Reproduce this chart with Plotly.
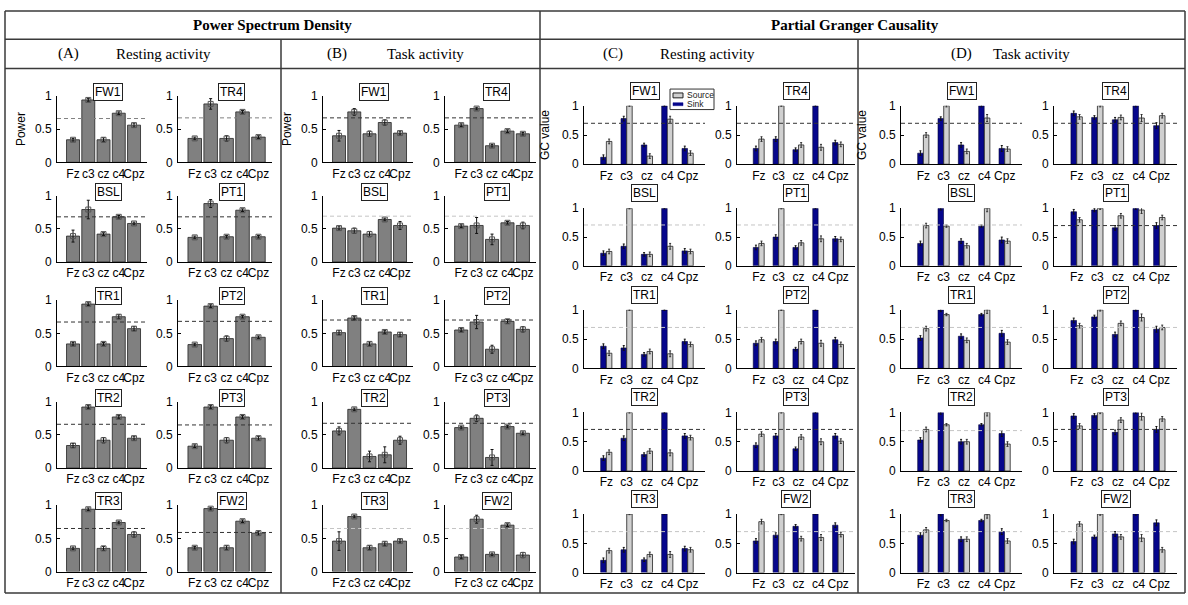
import plotly.graph_objects as go

W, H = 1188, 605

electrodes = ["Fz", "c3", "cz", "c4", "Cpz"]
positions = [1, 2, 3, 4, 5]
conditions = ["FW1", "TR4", "BSL", "PT1", "TR1", "PT2", "TR2", "PT3", "TR3", "FW2"]

# ---------------- (A) PSD resting ----------------
A_FW1 = [0.34, 0.94, 0.34, 0.74, 0.56]
A_TR4 = [0.36, 0.88, 0.36, 0.76, 0.38]
A_BSL = [0.39, 0.79, 0.42, 0.68, 0.58]
A_PT1 = [0.37, 0.88, 0.38, 0.78, 0.38]
A_TR1 = [0.34, 0.94, 0.34, 0.75, 0.57]
A_PT2 = [0.33, 0.91, 0.42, 0.75, 0.44]
A_TR2 = [0.34, 0.92, 0.42, 0.77, 0.45]
A_PT3 = [0.33, 0.92, 0.42, 0.77, 0.45]
A_TR3 = [0.35, 0.94, 0.35, 0.74, 0.56]
A_FW2 = [0.36, 0.95, 0.36, 0.76, 0.58]
A_FW1_err = [0.02, 0.02, 0.03, 0.02, 0.03]
A_TR4_err = [0.02, 0.08, 0.04, 0.02, 0.02]
A_BSL_err = [0.09, 0.14, 0.02, 0.02, 0.02]
A_PT1_err = [0.02, 0.06, 0.02, 0.02, 0.02]
A_TR1_err = [0.02, 0.02, 0.02, 0.03, 0.03]
A_PT2_err = [0.02, 0.02, 0.04, 0.02, 0.02]
A_TR2_err = [0.03, 0.02, 0.04, 0.02, 0.03]
A_PT3_err = [0.02, 0.02, 0.04, 0.02, 0.03]
A_TR3_err = [0.02, 0.02, 0.03, 0.02, 0.04]
A_FW2_err = [0.02, 0.02, 0.03, 0.02, 0.03]
A_thr = [0.66, 0.67, 0.68, 0.68, 0.67, 0.68, 0.66, 0.65, 0.65, 0.59]
A_thr_style = ["mid", "mid", "dark", "dark", "dark", "dark", "dark", "dark", "dark", "dark"]

# ---------------- (B) PSD task ----------------
B_FW1 = [0.40, 0.76, 0.43, 0.60, 0.44]
B_TR4 = [0.56, 0.81, 0.25, 0.47, 0.43]
B_BSL = [0.51, 0.47, 0.42, 0.64, 0.55]
B_PT1 = [0.54, 0.55, 0.34, 0.59, 0.55]
B_TR1 = [0.51, 0.73, 0.34, 0.52, 0.48]
B_PT2 = [0.55, 0.67, 0.26, 0.68, 0.56]
B_TR2 = [0.56, 0.885, 0.175, 0.20, 0.42]
B_PT3 = [0.61, 0.75, 0.16, 0.625, 0.525]
B_TR3 = [0.46, 0.83, 0.36, 0.42, 0.46]
B_FW2 = [0.22, 0.79, 0.26, 0.70, 0.25]
B_FW1_err = [0.08, 0.05, 0.04, 0.04, 0.03]
B_TR4_err = [0.02, 0.02, 0.02, 0.02, 0.02]
B_BSL_err = [0.03, 0.04, 0.04, 0.02, 0.06]
B_PT1_err = [0.02, 0.12, 0.08, 0.02, 0.05]
B_TR1_err = [0.03, 0.02, 0.03, 0.02, 0.03]
B_PT2_err = [0.02, 0.10, 0.06, 0.03, 0.04]
B_TR2_err = [0.06, 0.02, 0.08, 0.12, 0.06]
B_PT3_err = [0.02, 0.05, 0.12, 0.02, 0.02]
B_TR3_err = [0.14, 0.02, 0.03, 0.03, 0.03]
B_FW2_err = [0.02, 0.06, 0.02, 0.02, 0.04]
B_thr = [0.67, 0.67, 0.69, 0.69, 0.70, 0.70, 0.675, 0.675, 0.65, 0.65]
B_thr_style = ["dark", "dark", "light", "light", "dark", "dark", "dark", "dark", "light", "light"]

# ---------------- (C) PGC resting: Sink / Source ----------------
C_FW1_sink = [0.12, 0.78, 0.33, 1.00, 0.27]
C_FW1_src = [0.39, 1.00, 0.14, 0.77, 0.19]
C_TR4_sink = [0.27, 0.43, 0.25, 1.00, 0.37]
C_TR4_src = [0.43, 1.00, 0.33, 0.29, 0.34]
C_BSL_sink = [0.22, 0.34, 0.20, 1.00, 0.26]
C_BSL_src = [0.25, 1.00, 0.20, 0.34, 0.25]
C_PT1_sink = [0.32, 0.50, 0.32, 1.00, 0.47]
C_PT1_src = [0.39, 1.00, 0.40, 0.47, 0.46]
C_TR1_sink = [0.38, 0.35, 0.24, 1.00, 0.46]
C_TR1_src = [0.26, 1.00, 0.29, 0.25, 0.41]
C_PT2_sink = [0.43, 0.46, 0.33, 1.00, 0.49]
C_PT2_src = [0.49, 1.00, 0.46, 0.43, 0.41]
C_TR2_sink = [0.22, 0.56, 0.28, 1.00, 0.60]
C_TR2_src = [0.32, 1.00, 0.34, 0.31, 0.57]
C_PT3_sink = [0.44, 0.60, 0.38, 1.00, 0.60]
C_PT3_src = [0.63, 1.00, 0.58, 0.50, 0.51]
C_TR3_sink = [0.21, 0.39, 0.22, 1.00, 0.41]
C_TR3_src = [0.375, 1.00, 0.31, 0.31, 0.39]
C_FW2_sink = [0.54, 0.64, 0.79, 1.00, 0.81]
C_FW2_src = [0.87, 1.00, 0.58, 0.60, 0.65]
C_sink_err = [0.04, 0.04, 0.03, 0.01, 0.04]
C_src_err = [0.04, 0.01, 0.04, 0.05, 0.04]
C_thr = [0.70, 0.70, 0.71, 0.71, 0.70, 0.70, 0.71, 0.71, 0.70, 0.70]
C_thr_style = ["dark", "dark", "light", "light", "light", "light", "dark", "dark", "light", "light"]

# ---------------- (D) PGC task: Sink / Source ----------------
D_FW1_sink = [0.19, 0.78, 0.33, 1.00, 0.27]
D_FW1_src = [0.50, 1.00, 0.22, 0.79, 0.26]
D_TR4_sink = [0.87, 0.80, 0.76, 1.00, 0.66]
D_TR4_src = [0.81, 1.00, 0.80, 0.79, 0.83]
D_BSL_sink = [0.39, 1.00, 0.43, 0.69, 0.45]
D_BSL_src = [0.70, 0.69, 0.35, 1.00, 0.43]
D_PT1_sink = [0.94, 0.97, 0.66, 1.00, 0.70]
D_PT1_src = [0.80, 1.00, 0.87, 0.97, 0.84]
D_TR1_sink = [0.52, 1.00, 0.55, 0.92, 0.60]
D_TR1_src = [0.68, 0.92, 0.48, 1.00, 0.45]
D_PT2_sink = [0.82, 0.88, 0.58, 1.00, 0.67]
D_PT2_src = [0.73, 1.00, 0.77, 0.87, 0.70]
D_TR2_sink = [0.53, 1.00, 0.50, 0.79, 0.64]
D_TR2_src = [0.71, 0.79, 0.50, 1.00, 0.46]
D_PT3_sink = [0.94, 0.95, 0.66, 1.00, 0.71]
D_PT3_src = [0.77, 1.00, 0.87, 0.93, 0.89]
D_TR3_sink = [0.64, 1.00, 0.57, 0.89, 0.70]
D_TR3_src = [0.73, 0.89, 0.57, 0.99, 0.54]
D_FW2_sink = [0.53, 0.61, 0.66, 1.00, 0.85]
D_FW2_src = [0.83, 1.00, 0.61, 0.59, 0.39]
D_sink_err = [0.04, 0.03, 0.04, 0.02, 0.05]
D_src_err = [0.04, 0.02, 0.04, 0.06, 0.04]
D_thr = [0.70, 0.70, 0.71, 0.70, 0.70, 0.70, 0.69, 0.71, 0.70, 0.70]
D_thr_style = ["dark", "dark", "light", "dark", "light", "light", "light", "dark", "light", "light"]

# ---------------- tables built from the lists ----------------
psd = {
    "A": ([A_FW1, A_TR4, A_BSL, A_PT1, A_TR1, A_PT2, A_TR2, A_PT3, A_TR3, A_FW2],
          [A_FW1_err, A_TR4_err, A_BSL_err, A_PT1_err, A_TR1_err, A_PT2_err, A_TR2_err, A_PT3_err, A_TR3_err, A_FW2_err],
          A_thr, A_thr_style),
    "B": ([B_FW1, B_TR4, B_BSL, B_PT1, B_TR1, B_PT2, B_TR2, B_PT3, B_TR3, B_FW2],
          [B_FW1_err, B_TR4_err, B_BSL_err, B_PT1_err, B_TR1_err, B_PT2_err, B_TR2_err, B_PT3_err, B_TR3_err, B_FW2_err],
          B_thr, B_thr_style),
}
pgc = {
    "C": ([C_FW1_sink, C_TR4_sink, C_BSL_sink, C_PT1_sink, C_TR1_sink, C_PT2_sink, C_TR2_sink, C_PT3_sink, C_TR3_sink, C_FW2_sink],
          [C_FW1_src, C_TR4_src, C_BSL_src, C_PT1_src, C_TR1_src, C_PT2_src, C_TR2_src, C_PT3_src, C_TR3_src, C_FW2_src],
          C_sink_err, C_src_err, C_thr, C_thr_style),
    "D": ([D_FW1_sink, D_TR4_sink, D_BSL_sink, D_PT1_sink, D_TR1_sink, D_PT2_sink, D_TR2_sink, D_PT3_sink, D_TR3_sink, D_FW2_sink],
          [D_FW1_src, D_TR4_src, D_BSL_src, D_PT1_src, D_TR1_src, D_PT2_src, D_TR2_src, D_PT3_src, D_TR3_src, D_FW2_src],
          D_sink_err, D_src_err, D_thr, D_thr_style),
}

# ---------------- layout geometry (pixels) ----------------
cols_px = {
    "A": [(57, 147), (178, 272)],
    "B": [(323, 413), (445, 536)],
    "C": [(584, 705), (737, 855)],
    "D": [(901, 1022), (1054, 1177)],
}
rows_AB = [(91, 159), (193, 261), (300, 368), (404, 472), (510, 578)]
rows_CD = [(101, 161), (206, 265), (310, 370), (415, 475), (519, 579)]

thr_colors = {"dark": "#333333", "mid": "#808080", "light": "#c4c4c4"}
FONT = "Liberation Sans, Arial, sans-serif"
SERIF = "Liberation Serif, Times New Roman, serif"
SINK_COLOR = "#06068c"
SOURCE_COLOR = "#d0d0d0"

fig = go.Figure()
layout = {}
shapes = []
annotations = []


def px_x(v):
    return v / W


def px_y(v):
    return 1 - v / H


k = 0
for panel in ["A", "B", "C", "D"]:
    is_psd = panel in psd
    rows = rows_AB if is_psd else rows_CD
    for i, cond in enumerate(conditions):
        k += 1
        r, c = divmod(i, 2)
        x0, x1 = cols_px[panel][c]
        yt, yb = rows[r]
        xa = "x" if k == 1 else f"x{k}"
        ya = "y" if k == 1 else f"y{k}"
        xname = "xaxis" if k == 1 else f"xaxis{k}"
        yname = "yaxis" if k == 1 else f"yaxis{k}"
        xrange = [-0.05, 5.85] if is_psd else [-0.1, 5.85]
        layout[xname] = dict(
            domain=[px_x(x0), px_x(x1)], anchor=ya, range=xrange,
            tickvals=positions, ticktext=electrodes, showline=True, linecolor="black",
            linewidth=1, ticks="", showgrid=False, zeroline=False, tickangle=0,
            tickfont=dict(family=FONT, size=12, color="black"), fixedrange=True)
        ytitle = None
        if i == 0:
            ytitle = dict(text="Power" if is_psd else "GC value",
                          font=dict(family=FONT, size=12, color="black"),
                          standoff=6 if is_psd else 9)
        layout[yname] = dict(
            domain=[px_y(yb), px_y(yt)], anchor=xa, range=[0, 1.001],
            tickvals=[0, 0.5, 1], ticktext=["0", "0.5", "1"], showline=True,
            linecolor="black", linewidth=1, ticks="inside", ticklen=3, tickcolor="black",
            showgrid=False, zeroline=False, ticklabelstandoff=2,
            tickfont=dict(family=FONT, size=12, color="black"), fixedrange=True,
            title=ytitle)

        if is_psd:
            vals_all, errs_all, thr, style = psd[panel]
            vals, errs = vals_all[i], errs_all[i]
            fig.add_trace(go.Bar(
                x=positions, y=vals, width=0.85, xaxis=xa, yaxis=ya,
                marker=dict(color="#808080", line=dict(color="#222222", width=0.8)),
                error_y=dict(type="data", array=errs, color="#111111", thickness=1, width=1.5),
                showlegend=False, hoverinfo="y"))
            fig.add_trace(go.Scatter(
                x=positions, y=vals, mode="markers", xaxis=xa, yaxis=ya,
                marker=dict(symbol="square-open", size=5, color="#555555", line=dict(width=1)),
                showlegend=False, hoverinfo="skip"))
            title_x, title_shift = 0.57, 4
        else:
            sink_all, src_all, sink_err, src_err, thr, style = pgc[panel]
            fig.add_trace(go.Bar(
                x=positions, y=sink_all[i], width=0.27, offset=-0.28, xaxis=xa, yaxis=ya,
                name="Sink", marker=dict(color=SINK_COLOR, line=dict(color="#000033", width=0.6)),
                error_y=dict(type="data", array=sink_err, color="#111111", thickness=1, width=1),
                showlegend=False))
            fig.add_trace(go.Bar(
                x=positions, y=src_all[i], width=0.27, offset=0.0, xaxis=xa, yaxis=ya,
                name="Source", marker=dict(color=SOURCE_COLOR, line=dict(color="#222222", width=0.8)),
                error_y=dict(type="data", array=src_err, color="#333333", thickness=1, width=1),
                showlegend=False))
            title_x, title_shift = 0.5, 15

        shapes.append(dict(type="line", xref=f"{xa} domain", x0=0, x1=1, yref=ya,
                           y0=thr[i], y1=thr[i],
                           line=dict(color=thr_colors[style[i]], width=1, dash="4px,3px"),
                           layer="above"))
        annotations.append(dict(
            text=cond, xref=f"{xa} domain", yref=f"{ya} domain", x=title_x, y=1,
            xanchor="center", yanchor="middle", yshift=title_shift, showarrow=False,
            font=dict(family=FONT, size=12, color="black"), bgcolor="white",
            bordercolor="#222222", borderwidth=1, borderpad=1))

# ---------------- table frame ----------------
LINE = dict(color="#3a3a3a", width=1.5)
for (xa0, ya0, xa1, ya1) in [
    (5, 4, 1185, 4), (5, 33, 1185, 33), (5, 63, 1185, 63), (5, 600, 1185, 600),
    (5, 4, 5, 600), (1185, 4, 1185, 600), (540, 4, 540, 600),
    (281, 33, 281, 600), (858, 33, 858, 600)]:
    shapes.append(dict(type="line", xref="paper", yref="paper",
                       x0=px_x(xa0), x1=px_x(xa1), y0=px_y(ya0), y1=px_y(ya1), line=LINE))

# headers
for txt, xc, yc, bold in [
    ("Power Spectrum Density", 272, 18, True), ("Partial Granger Causality", 855, 18, True),
    ("(A)", 68, 48, False), ("Resting activity", 163, 48, False),
    ("(B)", 337, 48, False), ("Task activity", 425, 48, False),
    ("(C)", 613, 48, False), ("Resting activity", 708, 48, False),
    ("(D)", 961, 48, False), ("Task activity", 1031, 48, False)]:
    annotations.append(dict(text=f"<b>{txt}</b>" if bold else txt, xref="paper", yref="paper",
                            x=px_x(xc), y=px_y(yc), xanchor="center", yanchor="middle",
                            showarrow=False, font=dict(family=SERIF, size=15, color="black")))

# legend for panel C (FW1)
lx0, ly0, lx1, ly1 = 670, 84, 714, 105
shapes.append(dict(type="rect", xref="paper", yref="paper", x0=px_x(lx0), x1=px_x(lx1),
                   y0=px_y(ly1), y1=px_y(ly0), line=dict(color="#333333", width=1),
                   fillcolor="white", layer="above"))
shapes.append(dict(type="rect", xref="paper", yref="paper", x0=px_x(673), x1=px_x(683),
                   y0=px_y(93), y1=px_y(88), line=dict(color="#222222", width=1),
                   fillcolor=SOURCE_COLOR, layer="above"))
shapes.append(dict(type="rect", xref="paper", yref="paper", x0=px_x(673), x1=px_x(683),
                   y0=px_y(101), y1=px_y(98), line=dict(color=SINK_COLOR, width=0.5),
                   fillcolor=SINK_COLOR, layer="above"))
for txt, yc in [("Source", 90.5), ("Sink", 99.5)]:
    annotations.append(dict(text=txt, xref="paper", yref="paper", x=px_x(685), y=px_y(yc),
                            xanchor="left", yanchor="middle", showarrow=False,
                            font=dict(family=FONT, size=8.5, color="#222222")))

fig.update_layout(
    width=W, height=H, margin=dict(l=0, r=0, t=0, b=0),
    paper_bgcolor="white", plot_bgcolor="white", barmode="overlay",
    showlegend=False, shapes=shapes, annotations=annotations, **layout)

fig.write_html("out.html", config={"displayModeBar": False},
               post_script="document.body.style.margin='0px';document.body.style.overflow='hidden';")
